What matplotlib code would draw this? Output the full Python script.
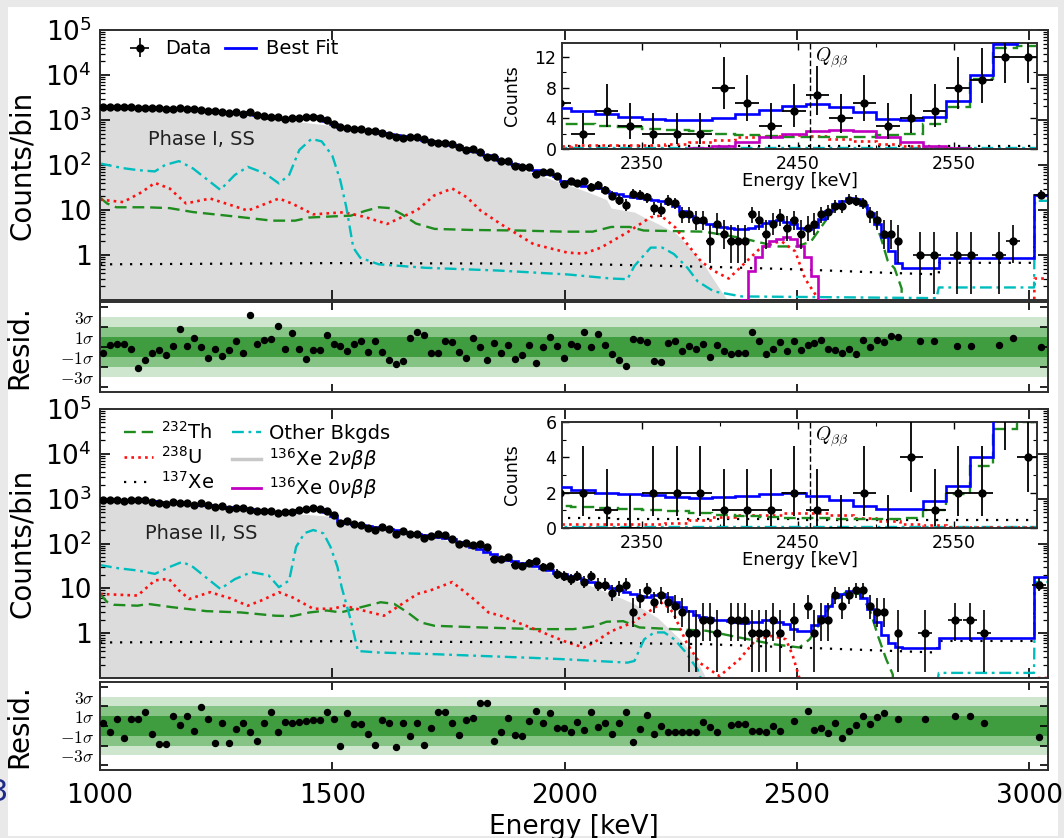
import numpy as np
import matplotlib.pyplot as plt
from matplotlib.patches import Rectangle
from matplotlib.lines import Line2D
from matplotlib.ticker import FixedLocator, FixedFormatter, NullFormatter, LogLocator

plt.rcParams['font.family'] = 'DejaVu Sans'

# 15 keV bins from 1000 to 2725 keV (115 bins)
edges = np.arange(1000, 2726, 15.0)
centres = edges[:-1] + 7.5
hi_edges = [2725, 2805, 3010, 3040]

# ---------------- Phase I ----------------
p1_counts = [1975, 1990, 1980, 1965, 1918, 1810, 1817, 1824, 1814, 1767,
             1778, 1826, 1724, 1728, 1655, 1577, 1566, 1495, 1467, 1472,
             1392, 1498, 1312, 1233, 1158, 1159, 1053, 1127, 1124, 1140,
             1191, 1121, 988, 809, 712, 660, 647, 624, 573, 575,
             513, 461, 423, 405, 429, 420, 387, 329, 310, 310,
             288, 252, 218, 223, 190, 152, 153, 124, 120, 94,
             88, 88, 63, 70, 71, 57, 37, 43, 39, 44,
             33, 36, 28, 21, 17, 13, 23, 22, 19, 11,
             10, 16, 14, 8, 8, 6, 6, 2, 5, 3,
             2, 2, 2, 8, 6, 3, 5, 7, 4, 6,
             3, 4, 5, 8, 9, 12, 12, 17, 16, 14,
             8, 6, 3, 3, 2]
p1_fit = [2000, 1985, 1970, 1950, 1925, 1900, 1875, 1850, 1825, 1800,
          1775, 1750, 1720, 1690, 1655, 1620, 1575, 1530, 1480, 1450,
          1415, 1380, 1300, 1210, 1130, 1090, 1060, 1080, 1130, 1180,
          1200, 1130, 950, 800, 710, 670, 640, 610, 585, 560,
          525, 490, 460, 435, 410, 390, 365, 340, 320, 300,
          280, 260, 235, 210, 190, 168, 148, 130, 118, 106,
          95, 86, 77, 70, 63, 56, 45, 41, 38, 35,
          33, 31, 27, 24, 22.5, 21, 19.5, 18.5, 17.5, 16.5,
          16, 14.5, 12, 9.5, 7.5, 6.2, 5.3, 4.9, 4.5, 4.2,
          3.9, 3.75, 3.75, 4.0, 4.5, 5.1, 5.6, 5.9, 5.5, 4.8,
          3.9, 3.75, 4.2, 6.2, 9.6, 13.7, 16, 18.5, 18, 13,
          8.5, 5, 2.5, 1.2, 0.65]
p1_fit_hi = [0.52, 0.84, 22]
p1_resid = [-0.6, 0.17, 0.27, 0.33, -0.17, -2.07, -1.33, -0.6, -0.27, -0.77,
            0.07, 1.83, 0.1, 0.93, 0.0, -1.07, -0.23, -0.9, -0.33, 0.57,
            -0.6, 3.17, 0.33, 0.67, 0.83, 2.1, -0.23, 1.43, -0.17, -1.17,
            -0.27, -0.27, 1.23, 0.33, 0.07, -0.4, 0.27, 0.57, -0.5, 0.6,
            -0.5, -1.33, -1.73, -1.43, 0.93, 1.5, 1.17, -0.57, -0.57, 0.6,
            0.5, -0.5, -1.1, 0.9, 0.0, -1.27, 0.4, -0.57, 0.17, -1.17,
            -0.77, 0.17, -1.6, 0.0, 0.97, 0.07, -1.13, 0.3, 0.13, 1.53,
            -0.03, 1.3, 0.23, -0.67, -1.27, -1.87, 0.8, 0.73, 0.47, -1.43,
            -1.53, 0.4, 0.63, -0.4, 0.07, -0.2, 0.33, -1.03, 0.23, -0.37,
            -0.67, -0.6, -0.6, 1.47, 0.63, -0.73, -0.2, 0.47, -0.43, 0.57,
            -0.27, 0.2, 0.4, 0.67, -0.17, -0.33, -0.6, -0.2, -0.67, 0.73,
            0.0, 0.67, 0.47, 1.13, 1.0]
p1_hi_e = [2765, 2795, 2845, 2875, 2935, 2965, 3025]
p1_hi_n = [1, 1, 1, 1, 1, 2, 22]
p1_hi_r = [0.63, 0.63, 0.13, 0.13, 0.17, 0.9, 0.0]

p1_th_e = [1000, 1015, 1035, 1100, 1150, 1200, 1300, 1370, 1420, 1450, 1500, 1540, 1570, 1600, 1625,
           1650, 1680, 1720, 1800, 1900, 2000, 2060, 2100, 2140, 2170, 2300, 2380, 2420, 2460, 2500,
           2530, 2545, 2560, 2575, 2590, 2610, 2630, 2650, 2665, 2680, 2695, 2710, 2725, 2726]
p1_th_v = [19, 14, 11.5, 11.5, 11, 9, 7, 5.8, 5.8, 6.8, 7.2, 7.5, 9.5, 11.5, 11,
           8, 5, 3.8, 3.6, 3.5, 3.3, 3.3, 4.2, 4.2, 3.5, 3.3, 2.4, 1.9, 1.55, 1.55,
           2.0, 3.3, 5.5, 9.1, 13.2, 18, 17, 11, 6.5, 2.5, 0.75, 0.5, 0.18, 0.01]
p1_u_e = [1000, 1050, 1090, 1118, 1150, 1185, 1237, 1280, 1318, 1350, 1385, 1414, 1459, 1525, 1570,
          1618, 1683, 1719, 1758, 1790, 1819, 1862, 1933, 2006, 2041, 2078, 2135, 2185, 2207, 2238,
          2264, 2293, 2320, 2353, 2381, 2417, 2440, 2467, 2496, 2517, 2540, 2560, 3010, 3011, 3040]
p1_u_v = [17, 15, 25, 40, 30, 14, 18, 13, 9.7, 13, 18, 13.8, 8, 8.9, 7,
          4.9, 10, 21, 30, 19, 9.7, 4.9, 1.74, 1.13, 1.07, 1.46, 3.2, 6.9, 7.5, 4.1,
          1.74, 0.73, 0.45, 0.3, 0.57, 1.3, 1.8, 2.0, 1.2, 0.3, 0.13, 0.05, 0.05, 0.3, 0.3]
p1_xe_e = [1000, 1500, 2000, 2300, 2500, 2700, 2805, 2806, 3010, 3011, 3040]
p1_xe_v = [0.62, 0.66, 0.64, 0.55, 0.48, 0.4, 0.37, 0.67, 0.67, 7.0, 7.0]
p1_oth_e = [1000, 1050, 1081, 1118, 1140, 1170, 1200, 1259, 1290, 1318, 1355, 1385, 1407, 1429, 1455,
            1477, 1500, 1517, 1530, 1545, 1560, 1600, 1700, 1860, 2006, 2100, 2135, 2150, 2185, 2210,
            2235, 2264, 2286, 2321, 2381, 2800, 2805, 3010, 3012, 3040]
p1_oth_v = [108, 85, 77, 72, 100, 122, 84, 28, 60, 91, 65, 39, 60, 216, 380,
            335, 160, 46, 11.6, 1.46, 0.87, 0.62, 0.52, 0.45, 0.37, 0.30, 0.29, 0.57, 1.46, 1.46,
            1.05, 0.52, 0.26, 0.155, 0.12, 0.11, 0.19, 0.19, 16, 16]
p1_2nu_e = [1000, 1100, 1200, 1300, 1350, 1400, 1450, 1500, 1550, 1600, 1700, 1800, 1900,
            2000, 2050, 2090, 2100, 2150, 2170, 2200, 2240, 2270, 2300, 2330, 2350, 2360]
p1_2nu_v = [1950, 1800, 1600, 1320, 1150, 1000, 860, 750, 620, 520, 330, 195, 85,
            38, 25, 17, 11, 9, 7, 5, 3, 1.4, 0.6, 0.2, 0.1, 0.05]

# inset bins 2290-2605 keV (21 bins)
p1_in_th = [3.3, 3.2, 3.0, 2.8, 2.65, 2.5, 2.3, 2.0, 1.85, 1.7, 1.6, 1.55, 1.5, 1.6, 1.8, 2.0, 3.3, 5.5, 9.1, 13.2, 13.4]
p1_in_u = [0.4, 0.5, 0.5, 0.5, 0.55, 0.6, 0.9, 1.2, 1.6, 1.7, 1.8, 1.75, 1.35, 1.0, 0.65, 0.35, 0.2, 0.1, 0.05, 0.05, 0.05]
p1_in_xe = [0.45, 0.45, 0.44, 0.44, 0.43, 0.43, 0.42, 0.42, 0.41, 0.41, 0.4, 0.4, 0.4, 0.39, 0.39, 0.39, 0.38, 0.38, 0.38, 0.37, 0.37]
p1_in_oth = [0.14, 0.13, 0.12, 0.12, 0.11, 0.11, 0.1, 0.1, 0.1, 0.1, 0.1, 0.1, 0.1, 0.1, 0.1, 0.1, 0.1, 0.1, 0.1, 0.1, 0.1]
p1_0v = [0, 0, 0, 0, 0, 0, 0.1, 0.45, 0.9, 1.6, 2.0, 2.3, 2.5, 2.3, 1.6, 0.9, 0.35, 0.1, 0, 0, 0]

# ---------------- Phase II ----------------
p2_counts = [948, 917, 951, 887, 939, 933, 947, 856, 796, 767,
             829, 787, 798, 735, 781, 728, 646, 674, 602, 618,
             613, 565, 519, 536, 541, 486, 505, 511, 560, 603,
             625, 595, 531, 434, 284, 312, 273, 258, 227, 201,
             229, 212, 166, 187, 159, 166, 131, 146, 159, 151,
             129, 100, 101, 92, 96, 84, 46, 44, 49, 34,
             31, 37, 40, 30, 31, 21, 19, 16, 19, 14,
             19, 12, 12, 8, 10, 12, 3, 6, 9, 5,
             7, 5, 4, 3, 1, 1, 2, 2, 1, 0,
             2, 2, 2, 1, 1, 1, 2, 1, 0, 2,
             0, 4, 1, 2, 2, 7, 4, 7, 9, 9,
             4, 3, 3, 0, 1]
p2_fit = [940, 935, 930, 925, 918, 912, 905, 880, 850, 820,
          800, 785, 770, 750, 730, 710, 690, 665, 645, 625,
          605, 580, 555, 530, 510, 500, 495, 505, 550, 590,
          610, 580, 500, 420, 320, 290, 270, 255, 240, 230,
          220, 207, 195, 183, 172, 162, 155, 148, 142, 135,
          125, 110, 95, 85, 75, 65, 57, 48, 43, 40,
          37, 34, 31, 28, 25, 22.5, 20.5, 19, 17, 15.5,
          14, 12.5, 11.3, 10.3, 9.3, 8.4, 7.6, 6.6, 6.5, 7.2,
          7.3, 6.3, 5.0, 3.8, 3.1, 2.6, 2.3, 2.15, 2.0, 1.95,
          1.85, 1.75, 1.7, 1.75, 1.8, 1.95, 2.0, 1.8, 1.6, 1.25,
          1.1, 1.1, 1.55, 2.4, 4.0, 6.5, 7.5, 8.8, 8.5, 6.0,
          3.5, 1.8, 0.9, 0.6, 0.5]
p2_fit_hi = [0.46, 0.8, 17.8]
nan = np.nan
p2_resid = [0.27, -0.58, 0.68, -1.25, 0.68, 0.68, 1.39, -0.81, -1.86, -1.86,
            1.02, 0.07, 1.02, -0.54, 1.9, 0.68, -1.69, 0.34, -1.69, -0.27,
            0.34, -0.64, -1.53, 0.27, 1.39, -0.64, 0.44, 0.27, 0.44, 0.54,
            0.61, 0.61, 1.39, 0.68, -2.03, 1.29, 0.17, 0.17, -0.81, -1.93,
            0.61, 0.34, -2.1, 0.27, -1.02, 0.34, -1.93, -0.17, 1.39, 1.39,
            0.34, -0.95, 0.61, 0.78, 2.37, 2.37, -1.49, -0.64, 0.85, -0.88,
            -1.02, 0.54, 1.56, 0.34, 1.29, -0.24, -0.24, -0.64, 0.44, -0.41,
            1.39, -0.07, 0.27, -0.85, 0.34, 1.39, -1.66, -0.34, 1.12, -0.85,
            0.0, -0.64, -0.64, -0.64, -0.64, -0.64, 0.44, -0.1, -0.6, nan,
            0.1, 0.17, 0.17, -0.5, -0.55, -0.6, 0.0, -0.55, nan, 0.55,
            nan, 1.56, -0.4, -0.2, -0.75, 0.34, -1.25, -0.5, 0.1, 1.02,
            0.2, 0.88, 1.29, nan, 0.68]
p2_hi_e = [2775, 2840, 2872, 2902, 3020]
p2_hi_n = [1, 2, 2, 1, 12]
p2_hi_r = [0.68, 1.02, 1.02, 0.27, -1.08]

p2_th_e = [1000, 1015, 1030, 1081, 1103, 1155, 1229, 1303, 1377, 1414, 1451, 1488, 1518, 1562, 1604,
           1633, 1662, 1690, 1720, 1822, 1940, 2018, 2060, 2090, 2126, 2161, 2233, 2305, 2376, 2447,
           2505, 2527, 2541, 2555, 2570, 2585, 2605, 2634, 2656, 2674, 2692, 2706, 2707]
p2_th_v = [7.5, 5, 4.3, 4.1, 4.5, 3.8, 3.1, 2.9, 2.45, 2.4, 2.9, 3.2, 2.9, 3.8, 4.9,
           4.5, 2.9, 1.74, 1.46, 1.34, 1.23, 1.23, 1.4, 1.8, 1.85, 1.34, 1.23, 1.13, 0.8, 0.57,
           0.48, 0.73, 1.2, 2.2, 3.8, 5.6, 8.2, 7.5, 3.5, 0.87, 0.26, 0.12, 0.01]
p2_u_e = [1000, 1081, 1118, 1148, 1170, 1192, 1237, 1280, 1318, 1350, 1385, 1414, 1459, 1502, 1525,
          1611, 1683, 1711, 1758, 1804, 1836, 1862, 1935, 2006, 2041, 2063, 2100, 2147, 2190, 2211,
          2233, 2262, 2290, 2333, 2376, 2412, 2447, 2476, 2491, 2505, 2520, 3010, 3011, 3040]
p2_u_v = [7.5, 6.9, 15, 16.3, 9, 5.8, 8.2, 6, 4.1, 5.5, 8.2, 6.3, 3.5, 3.5, 4.1,
          2.45, 7.5, 9, 13.8, 5.8, 2.9, 2.45, 1.23, 0.62, 0.48, 0.62, 1.1, 1.74, 3.5, 4.9,
          2.9, 0.62, 0.22, 0.11, 0.26, 0.73, 0.87, 0.73, 0.31, 0.1, 0.03, 0.03, 0.1, 0.1]
p2_xe_e = [1000, 1500, 2000, 2300, 2450, 2600, 2800, 2805, 3010, 3011, 3040]
p2_xe_v = [0.62, 0.66, 0.62, 0.57, 0.5, 0.44, 0.37, 0.67, 0.67, 10, 10]
p2_oth_e = [1000, 1040, 1081, 1118, 1150, 1177, 1200, 1259, 1290, 1326, 1363, 1385, 1407, 1422, 1440,
            1459, 1481, 1496, 1511, 1520, 1540, 1555, 1600, 1720, 1935, 2006, 2135, 2150, 2171, 2193,
            2214, 2236, 2258, 2286, 2300, 2800, 2805, 3010, 3012, 3040]
p2_oth_v = [33, 28, 25, 21, 30, 39, 30, 9.7, 16, 23, 19.4, 10.6, 15, 84, 170,
            200, 168, 84, 30, 10.6, 1.9, 0.4, 0.37, 0.34, 0.28, 0.26, 0.22, 0.24, 0.73, 1.04,
            1.04, 0.73, 0.4, 0.155, 0.06, 0.06, 0.13, 0.13, 13.8, 13.8]
p2_2nu_e = [1000, 1100, 1200, 1300, 1400, 1450, 1500, 1550, 1600, 1700, 1800, 1900,
            2000, 2050, 2100, 2150, 2200, 2250, 2280, 2300, 2310]
p2_2nu_v = [920, 880, 730, 590, 480, 440, 400, 290, 225, 155, 83, 37,
            18, 12, 7.5, 4.5, 2.2, 0.7, 0.3, 0.12, 0.05]

p2_in_th = [1.25, 1.2, 1.15, 1.1, 1.0, 0.95, 0.85, 0.75, 0.68, 0.62, 0.58, 0.55, 0.5, 0.5, 0.52, 0.55, 1.0, 1.9, 3.5, 5.6, 6.0]
p2_in_u = [0.25, 0.25, 0.22, 0.2, 0.22, 0.3, 0.45, 0.6, 0.75, 0.75, 0.85, 0.85, 0.75, 0.55, 0.4, 0.25, 0.15, 0.08, 0.05, 0.05, 0.05]
p2_in_xe = [0.55, 0.55, 0.54, 0.53, 0.53, 0.52, 0.52, 0.51, 0.5, 0.5, 0.49, 0.48, 0.48, 0.47, 0.46, 0.45, 0.45, 0.44, 0.44, 0.43, 0.43]
p2_in_oth = [0.07, 0.06, 0.06, 0.05, 0.05, 0.05, 0.05, 0.05, 0.05, 0.05, 0.05, 0.05, 0.05, 0.05, 0.05, 0.05, 0.05, 0.05, 0.05, 0.05, 0.05]

# ---------------- styles ----------------
BLUE = '#0000ff'
GREEN = '#1e8c1e'
RED = '#ff1010'
CYAN = '#00bdbd'
MAG = '#c000c0'
GREY = '#dcdcdc'
SPINE = '#2e2e2e'
styles = {
    'th': dict(color=GREEN, lw=1.7, ls=(0, (5, 2.5))),
    'u': dict(color=RED, lw=1.9, ls=(0, (1, 1.6))),
    'xe': dict(color='k', lw=1.6, ls=(0, (1, 3.5))),
    'oth': dict(color=CYAN, lw=1.7, ls=(0, (5, 2, 1.2, 2))),
}

W, H = 1064, 838


def frac(x0, y0, x1, y1):
    return [x0 / W, 1 - y1 / H, (x1 - x0) / W, (y1 - y0) / H]


def poisson_err(n):
    n = np.asarray(n, float)
    lo = np.where(n > 0, np.sqrt(np.clip(n - 0.25, 0, None)), 0.0)
    hi = np.sqrt(n + 0.75) + 1.0
    return np.vstack([lo, hi])


def style_spines(ax):
    for s in ax.spines.values():
        s.set_linewidth(1.4)
        s.set_color(SPINE)


fig = plt.figure(figsize=(10.64, 8.38), dpi=100, facecolor='#e9e9e9')
fig.add_artist(Rectangle((8 / W, 2 / H), (1058 - 8) / W, (831 - 2) / H, transform=fig.transFigure,
                         facecolor='white', edgecolor='none', zorder=-5))


def main_panel(rect, counts, fit, fit_hi, hi_e, hi_n, comps, zero_nu, label):
    ax = fig.add_axes(rect)
    ax.set_yscale('log')
    ax.fill_between(comps['2nu'][0], comps['2nu'][1], 1e-3, color=GREY, lw=0, zorder=1)
    for key in ['th', 'u', 'xe', 'oth']:
        ax.plot(comps[key][0], comps[key][1], zorder=2, **styles[key])
    if zero_nu is not None:
        ax.stairs(np.maximum(zero_nu, 1e-3), edges[86:108], baseline=None, color=MAG, lw=1.9, zorder=3)
    ax.stairs(np.concatenate([fit, fit_hi]), np.concatenate([edges, hi_edges[1:]]),
              baseline=None, color=BLUE, lw=1.9, zorder=4)
    x = np.concatenate([centres, hi_e])
    n = np.concatenate([np.asarray(counts, float), np.asarray(hi_n, float)])
    xe = np.concatenate([np.full(len(centres), 7.5), np.full(len(hi_e), 15.0)])
    m = n > 0
    data = ax.errorbar(x[m], n[m], yerr=poisson_err(n[m]), xerr=xe[m], fmt='o', color='k',
                       ms=5, elinewidth=1.2, capsize=0, zorder=5)
    ax.set_xlim(1000, 3040)
    ax.set_ylim(0.1, 1e5)
    ax.set_xticks([1000, 1500, 2000, 2500, 3000])
    ax.yaxis.set_major_locator(FixedLocator([1, 10, 100, 1e3, 1e4, 1e5]))
    ax.yaxis.set_major_formatter(FixedFormatter(['1', '10', '10$^2$', '10$^3$', '10$^4$', '10$^5$']))
    ax.yaxis.set_minor_locator(LogLocator(base=10, subs=range(2, 10), numticks=20))
    ax.yaxis.set_minor_formatter(NullFormatter())
    ax.tick_params(which='both', direction='in', top=True, right=True, labelbottom=False)
    ax.tick_params(which='major', length=7, width=1.2, labelsize=19, pad=6)
    ax.tick_params(which='minor', length=3.5, width=0.9)
    ax.set_ylabel('Counts/bin', fontsize=20)
    ax.yaxis.set_label_coords(-0.068, 0.5)
    ax.text(label[1], label[2], label[0], fontsize=14, color='#222222', va='center', ha='left', zorder=6)
    style_spines(ax)
    return ax, data


def resid_panel(rect, resid, hi_e, hi_r, bottom):
    ax = fig.add_axes(rect)
    ax.axhspan(-3, 3, color='#cde6cd', lw=0, zorder=0)
    ax.axhspan(-2, 2, color='#86c486', lw=0, zorder=0)
    ax.axhspan(-1, 1, color='#3f9c3f', lw=0, zorder=0)
    ax.plot(np.concatenate([centres, hi_e]), np.concatenate([resid, hi_r]), 'o', color='k', ms=4.3, zorder=3)
    ax.set_xlim(1000, 3040)
    ax.set_ylim(-4.5, 4.5)
    ax.set_xticks([1000, 1500, 2000, 2500, 3000])
    ax.set_yticks([-4, -2, 0, 2, 4])
    ax.set_yticklabels([])
    ax.yaxis.set_minor_locator(FixedLocator([-3, -1, 1, 3]))
    ax.yaxis.set_minor_formatter(FixedFormatter([r'$-3\sigma$', r'$-1\sigma$', r'$1\sigma$', r'$3\sigma$']))
    ax.tick_params(which='both', direction='in', top=True, right=True)
    ax.tick_params(which='major', length=6, width=1.2, labelbottom=bottom, labelsize=19, pad=9)
    ax.tick_params(axis='y', which='minor', length=0, labelleft=True, labelsize=12.5, pad=4)
    for t in ax.yaxis.get_minorticklabels():
        t.set_math_fontfamily('cm')
    ax.set_ylabel('Resid.', fontsize=20)
    ax.yaxis.set_label_coords(-0.07, 0.5)
    if bottom:
        ax.set_xlabel('Energy [keV]', fontsize=19)
        ax.xaxis.set_label_coords(0.5, -0.5)
    style_spines(ax)
    return ax


def inset_panel(rect, counts, fit, comps, zero_nu, ymax, major, minor):
    axi = fig.add_axes(rect)
    ein = edges[86:108]
    cin = centres[86:107]
    for key in ['oth', 'xe', 'u', 'th']:
        axi.stairs(comps[key], ein, baseline=None, zorder=2, **styles[key])
    if zero_nu is not None:
        axi.stairs(zero_nu, ein, baseline=None, color=MAG, lw=1.9, zorder=2)
    axi.stairs(fit[86:107], ein, baseline=None, color=BLUE, lw=1.9, zorder=3)
    n = np.asarray(counts[86:107], float)
    axi.errorbar(cin, n, yerr=poisson_err(n), xerr=7.5, fmt='none', ecolor='k', elinewidth=1.3,
                 capsize=0, zorder=4)
    m = n > 0
    axi.plot(cin[m], n[m], 'o', color='k', ms=5, zorder=5)
    axi.axvline(2458, color='k', ls=(0, (4, 2)), lw=1.0, zorder=3)
    axi.text(2461, ymax * 0.97, r'$Q_{\beta\beta}$', fontsize=14, va='top', ha='left',
             math_fontfamily='cm', zorder=6)
    axi.set_xlim(2299, 2603)
    axi.set_ylim(0, ymax)
    axi.set_xticks([2350, 2450, 2550])
    axi.set_xticks([2400, 2500], minor=True)
    axi.set_yticks(major)
    axi.set_yticks(minor, minor=True)
    axi.tick_params(which='both', direction='in', top=True, right=True)
    axi.tick_params(which='major', length=5, width=1.0, labelsize=12.5, pad=4)
    axi.tick_params(which='minor', length=3, width=0.8)
    axi.set_ylabel('Counts', fontsize=12.5)
    axi.yaxis.set_label_coords(-0.086, 0.5)
    axi.set_xlabel('Energy [keV]', fontsize=13)
    axi.xaxis.set_label_coords(0.5, -0.22)
    style_spines(axi)
    return axi


p1_comps = {'th': (p1_th_e, p1_th_v), 'u': (p1_u_e, p1_u_v), 'xe': (p1_xe_e, p1_xe_v),
            'oth': (p1_oth_e, p1_oth_v), '2nu': (p1_2nu_e, p1_2nu_v)}
p2_comps = {'th': (p2_th_e, p2_th_v), 'u': (p2_u_e, p2_u_v), 'xe': (p2_xe_e, p2_xe_v),
            'oth': (p2_oth_e, p2_oth_v), '2nu': (p2_2nu_e, p2_2nu_v)}

ax1, data1 = main_panel(frac(100, 30, 1048, 300), p1_counts, p1_fit, p1_fit_hi, p1_hi_e, p1_hi_n,
                        p1_comps, p1_0v, ('Phase I, SS', 1103, 360))
r1 = resid_panel(frac(100, 302, 1048, 392), p1_resid, p1_hi_e, p1_hi_r, False)
ax2, data2 = main_panel(frac(100, 409, 1048, 678), p2_counts, p2_fit, p2_fit_hi, p2_hi_e, p2_hi_n,
                        p2_comps, None, ('Phase II, SS', 1096, 165))
r2 = resid_panel(frac(100, 682, 1048, 770), p2_resid, p2_hi_e, p2_hi_r, True)

inset_panel(frac(562, 43, 1037, 149), p1_counts, p1_fit,
            {'th': p1_in_th, 'u': p1_in_u, 'xe': p1_in_xe, 'oth': p1_in_oth}, p1_0v,
            13.8, [0, 4, 8, 12], [2, 6, 10])
inset_panel(frac(562, 422, 1037, 528), p2_counts, p2_fit,
            {'th': p2_in_th, 'u': p2_in_u, 'xe': p2_in_xe, 'oth': p2_in_oth}, None,
            6, [0, 2, 4, 6], [1, 3, 5])

# legends
fit_line = Line2D([], [], color=BLUE, lw=2)
ax1.legend([data1, fit_line], ['Data', 'Best Fit'], ncol=2, loc='upper left', bbox_to_anchor=(0.007, 1.03),
           frameon=False, fontsize=14, handlelength=1.6, handletextpad=0.5, columnspacing=0.7)

handles = [Line2D([], [], **styles['th']), Line2D([], [], **styles['u']), Line2D([], [], **styles['xe']),
           Line2D([], [], **styles['oth']), Line2D([], [], color='#c8c8c8', lw=2.5),
           Line2D([], [], color=MAG, lw=2)]
labels = [r'$^{232}$Th', r'$^{238}$U', r'$^{137}$Xe', 'Other Bkgds',
          r'$^{136}$Xe 2$\nu\beta\beta$', r'$^{136}$Xe 0$\nu\beta\beta$']
ax2.legend(handles, labels, ncol=2, loc='upper left', bbox_to_anchor=(0.007, 1.02), frameon=False,
           fontsize=14, handlelength=1.5, handletextpad=0.4, columnspacing=0.9, labelspacing=0.15)

# cropped glyph at the left edge of the source image
fig.text(-0.0105, 0.054, '3', fontsize=22, color='#1f2a8a', ha='left', va='center')

fig.savefig('out.png', dpi=100, facecolor=fig.get_facecolor())
